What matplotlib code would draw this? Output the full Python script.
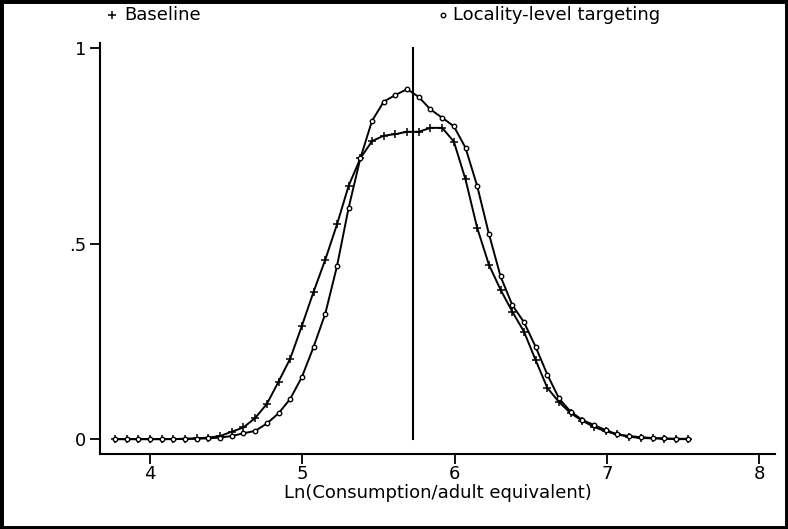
import numpy as np
import matplotlib
matplotlib.use("Agg")
import matplotlib.pyplot as plt
from matplotlib.lines import Line2D
from matplotlib.patches import Rectangle

plt.rcParams['font.family'] = ['DejaVu Sans']

# Evaluation grid of the kernel density estimates (50 points)
grid_min = 3.77
grid_max = 7.53
n_points = 50

baseline = [0.0, 0.0, 0.0, 0.0, 0.0, 0.0005, 0.001, 0.002, 0.004, 0.008,
            0.019, 0.030, 0.054, 0.090, 0.147, 0.206, 0.290, 0.377, 0.459, 0.549,
            0.648, 0.718, 0.762, 0.776, 0.780, 0.786, 0.786, 0.796, 0.796, 0.761,
            0.664, 0.540, 0.446, 0.382, 0.326, 0.275, 0.202, 0.131, 0.095, 0.066,
            0.047, 0.031, 0.020, 0.012, 0.006, 0.003, 0.002, 0.001, 0.0, 0.0]

locality = [0.0, 0.0, 0.0, 0.0, 0.0, 0.0, 0.0005, 0.001, 0.002, 0.004,
            0.008, 0.015, 0.021, 0.040, 0.066, 0.103, 0.159, 0.236, 0.321, 0.442,
            0.592, 0.718, 0.814, 0.863, 0.880, 0.895, 0.875, 0.843, 0.822, 0.800,
            0.745, 0.647, 0.525, 0.416, 0.343, 0.299, 0.236, 0.165, 0.104, 0.070,
            0.049, 0.036, 0.023, 0.012, 0.008, 0.005, 0.003, 0.002, 0.001, 0.001]

poverty_line = 5.73

x_ticks = [4, 5, 6, 7, 8]
y_ticks = [0, 0.5, 1]
y_tick_labels = ["0", ".5", "1"]

x = np.linspace(grid_min, grid_max, n_points)

FS = 13
W, H = 788, 529
fig = plt.figure(figsize=(W / 100, H / 100), dpi=100)
ax = fig.add_axes([100 / W, (H - 454) / H, (775 - 100) / W, (454 - 43) / H])

ax.plot(x, baseline, color='black', lw=1.4, marker='+', ms=6, mew=1.1)
ax.plot(x, locality, color='black', lw=1.4, marker='o', ms=3.2, mew=1.0,
        mfc='white', mec='black')
ax.plot([poverty_line, poverty_line], [0, 1], color='black', lw=1.5)

ax.set_xlim(3.672, 8.104)
ax.set_ylim(-0.038, 1.013)
ax.set_xticks(x_ticks)
ax.set_yticks(y_ticks)
ax.set_yticklabels(y_tick_labels)
ax.tick_params(direction='out', length=7, width=1.3, labelsize=FS)
ax.tick_params(axis='x', pad=1)
ax.tick_params(axis='y', pad=3)
for side in ('top', 'right'):
    ax.spines[side].set_visible(False)
for side in ('left', 'bottom'):
    ax.spines[side].set_linewidth(1.5)
ax.set_xlabel("Ln(Consumption/adult equivalent)", fontsize=FS, labelpad=1)

# Legend row across the top of the figure
fig.add_artist(Line2D([112 / W], [1 - 15 / H], marker='+', ms=6, mew=1.1,
                      color='black', transform=fig.transFigure))
fig.text(124 / W, 1 - 15 / H, "Baseline", fontsize=FS, va='center', ha='left')
fig.add_artist(Line2D([443 / W], [1 - 15 / H], marker='o', ms=3.2, mew=1.0,
                      mfc='white', mec='black', transform=fig.transFigure))
fig.text(453 / W, 1 - 15 / H, "Locality-level targeting", fontsize=FS,
         va='center', ha='left')

# Outer frame
fig.add_artist(Rectangle((0, 0), 1, 1, transform=fig.transFigure, fill=False,
                         edgecolor='black', lw=5, clip_on=False))

fig.savefig("out.png", dpi=100, facecolor='white')
